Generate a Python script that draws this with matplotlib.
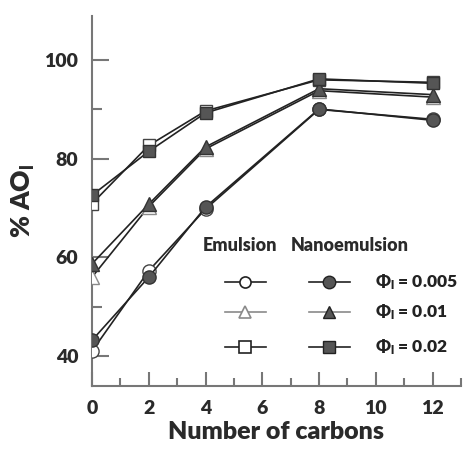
from matplotlib import pyplot as plt
from matplotlib.ticker import FixedLocator

# data
carbons = [0, 2, 4, 8, 12]
emul_005 = [41.0, 57.3, 69.8, 90.0, 88.0]
nano_005 = [43.2, 56.0, 70.2, 90.1, 87.8]
emul_01 = [56.0, 70.3, 82.0, 93.8, 92.5]
nano_01 = [58.7, 70.8, 82.4, 94.2, 93.0]
emul_02 = [70.9, 82.7, 89.7, 96.0, 95.5]
nano_02 = [72.6, 81.5, 89.3, 96.2, 95.3]
phi_labels = ['0.005', '0.01', '0.02']

plt.rcParams['font.family'] = ['Lato', 'DejaVu Sans']
plt.rcParams['font.weight'] = 'heavy'
plt.rcParams['axes.labelweight'] = 'heavy'
plt.rcParams['mathtext.default'] = 'regular'

fig = plt.figure(figsize=(4.67, 4.49), dpi=100)
ax = fig.add_axes([0.197, 0.141, 0.790, 0.824])

dark = '#222222'
fill = '#555555'
grey = '#8a8a8a'

# emulsion (open markers) first, nanoemulsion on top
ax.plot(carbons, emul_005, '-o', color=dark, lw=1.2, ms=9.5, mfc='white', mec='#444444', zorder=3)
ax.plot(carbons, emul_01, '-^', color=dark, lw=1.2, ms=10, mfc='white', mec=grey, zorder=3)
ax.plot(carbons, emul_02, '-s', color=dark, lw=1.2, ms=8.5, mfc='white', mec='#444444', zorder=3)
ax.plot(carbons, nano_005, '-o', color=dark, lw=1.2, ms=9.5, mfc=fill, mec='#333333', zorder=4)
ax.plot(carbons, nano_01, '-^', color=dark, lw=1.2, ms=10, mfc=fill, mec='#333333', zorder=4)
ax.plot(carbons, nano_02, '-s', color=dark, lw=1.2, ms=8.5, mfc=fill, mec='#333333', zorder=4)

ax.set_xlim(0, 13)
ax.set_ylim(34, 109)
ax.set_xticks([0, 2, 4, 6, 8, 10, 12])
ax.xaxis.set_minor_locator(FixedLocator([1, 3, 5, 7, 9, 11, 13]))
ax.set_yticks([40, 60, 80, 100])
ax.yaxis.set_minor_locator(FixedLocator([50, 90]))

for s in ['top', 'right']:
    ax.spines[s].set_visible(False)
for s in ['left', 'bottom']:
    ax.spines[s].set_color('#777777')
    ax.spines[s].set_linewidth(1.5)

ax.tick_params(axis='y', which='major', direction='in', length=12, width=1.5, color='#777777',
               labelsize=14, labelcolor='#2a2a2a', pad=10)
ax.tick_params(axis='y', which='minor', direction='in', length=7, width=1.5, color='#777777')
ax.tick_params(axis='x', which='major', direction='in', length=10, width=1.5, color='#777777',
               labelsize=14, labelcolor='#2a2a2a', pad=10)
ax.tick_params(axis='x', which='minor', direction='in', length=6, width=1.5, color='#777777')

ax.set_xlabel('Number of carbons', fontsize=18, fontweight='heavy', color='#2a2a2a', labelpad=3)
ax.set_ylabel('% AO$_{l}$', fontsize=19, fontweight='heavy', color='#2a2a2a', labelpad=5)

# hand-made legend
tr = ax.transAxes
ax.text(0.401, 0.378, 'Emulsion', transform=tr, ha='center', va='center', fontsize=13, color='#2a2a2a')
ax.text(0.700, 0.378, 'Nanoemulsion', transform=tr, ha='center', va='center', fontsize=13, color='#2a2a2a')
rows = [0.281, 0.200, 0.105]
emk = ['o', '^', 's']
ecol = [dark, grey, dark]
for i in range(3):
    y = rows[i]
    ax.plot([0.360, 0.472], [y, y], '-', color=ecol[i], lw=1.2, transform=tr, clip_on=False)
    ax.plot([0.416], [y], emk[i], ms=8, mfc='white', mec=ecol[i], mew=1.2, transform=tr, clip_on=False)
    ax.plot([0.588, 0.699], [y, y], '-', color=ecol[i], lw=1.2, transform=tr, clip_on=False)
    ax.plot([0.643], [y], emk[i], ms=9, mfc=fill, mec='#222222', transform=tr, clip_on=False)
    ax.text(0.767, y, '\u03a6$_{l}$ = ' + phi_labels[i], transform=tr, ha='left', va='center',
            fontsize=12.5, color='#222222')

fig.savefig('out.png', dpi=100)
